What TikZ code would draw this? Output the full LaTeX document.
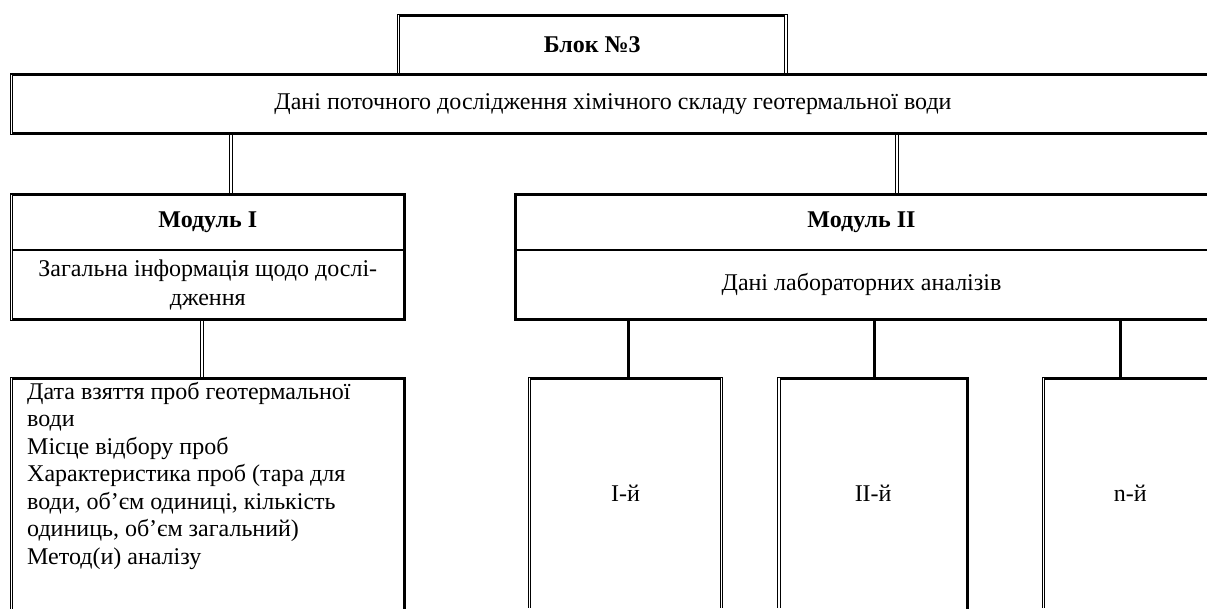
\documentclass[tikz,border=0pt]{standalone}
\usepackage{fontspec}
\setmainfont{Liberation Serif}
\begin{document}
\begin{tikzpicture}[x=1pt,y=-1pt,
  thk/.style={line width=3pt,line cap=rect},
  divl/.style={line width=2.5pt},
  dbl/.style={draw=black,double=white,line width=1pt,double distance=1.6pt},
  area/.style={draw=none,inner sep=0pt,outer sep=0pt,anchor=north west,align=center,
    font=\fontsize{24}{29}\selectfont},
  ]
\useasboundingbox (0,0) rectangle (1207,608);
\clip (0,0) rectangle (1207,608);
% nodes (areas)
\node[area,minimum width=387.5,minimum height=59.5] (blok) at (398.5,15) {\bfseries Блок №3};
\node[area,minimum width=1203,minimum height=59] (big) at (11.5,74.5) {Дані поточного дослідження хімічного складу геотермальної води};
\node[area,minimum width=392.5,minimum height=55.5] (mod1h) at (11.5,194.5) {\bfseries Модуль I};
\node[area,minimum width=392.5,minimum height=69.5] (mod1b) at (11.5,250) {Загальна інформація щодо дослі-\\дження};
\node[area,minimum width=693,minimum height=55.5] (mod2h) at (515,194.5) {\bfseries Модуль II};
\node[area,minimum width=693,minimum height=69.5] (mod2b) at (515,250) {Дані лабораторних аналізів};
\node[area,minimum width=393,minimum height=240] (info) at (11.5,378) {};
\node[draw=none,inner sep=0pt,anchor=base west,font=\fontsize{24}{27.5}\selectfont] (infotext) at (27,399)
  {\begin{tabular}[t]{@{}l@{}}Дата взяття проб геотермальної\\води\\Місце відбору проб\\Характеристика проб (тара для\\води, об’єм одиниці, кількість\\одиниць, об’єм загальний)\\Метод(и) аналізу\end{tabular}};
\node[area,minimum width=192,minimum height=230] (r1) at (529.5,378) {I-й};
\node[area,minimum width=188.7,minimum height=230] (r2) at (778.8,378) {II-й};
\node[area,minimum width=174,minimum height=230] (r3) at (1043.3,378) {n-й};
% connectors
\coordinate (xa) at (231,0);
\coordinate (xb) at (897,0);
\coordinate (xc) at (202,0);
\coordinate (xd) at (628,0);
\coordinate (xe) at (874,0);
\coordinate (xf) at (1120,0);
\draw[dbl] (xa |- big.south) -- (xa |- mod1h.north);
\draw[dbl] (xb |- big.south) -- (xb |- mod2h.north);
\draw[dbl] (xc |- mod1b.south) -- (xc |- info.north);
\draw[thk] (xd |- mod2b.south) -- (xd |- r1.north);
\draw[thk] (xe |- mod2b.south) -- (xe |- r2.north);
\draw[thk] (xf |- mod2b.south) -- (xf |- r3.north);
% borders
\draw[thk] (blok.north west) -- (blok.north east);
\draw[dbl] (blok.north west) -- (blok.south west);
\draw[dbl] (blok.north east) -- (blok.south east);
\draw[thk] (big.north west) -- (big.north east);
\draw[thk] (big.south west) -- (big.south east);
\draw[dbl] (big.north west) -- (big.south west);
\draw[thk] (mod1h.north west) -- (mod1h.north east) -- (mod1b.south east) -- (mod1b.south west);
\draw[divl] (mod1h.south west) -- (mod1h.south east);
\draw[dbl] (mod1h.north west) -- (mod1b.south west);
\draw[thk] (mod2h.north east) -- (mod2h.north west) -- (mod2b.south west) -- (mod2b.south east);
\draw[divl] (mod2h.south west) -- (mod2h.south east);
\draw[thk] (info.south east) -- (info.north east) -- (info.north west);
\draw[dbl] (info.north west) -- (info.south west);
\draw[thk] (r1.north west) -- (r1.north east);
\draw[dbl] (r1.north west) -- (r1.south west);
\draw[dbl] (r1.north east) -- (r1.south east);
\draw[thk] (r2.north west) -- (r2.north east) -- (r2.south east);
\draw[dbl] (r2.north west) -- (r2.south west);
\draw[thk] (r3.north west) -- (r3.north east);
\draw[dbl] (r3.north west) -- (r3.south west);
\end{tikzpicture}
\end{document}
